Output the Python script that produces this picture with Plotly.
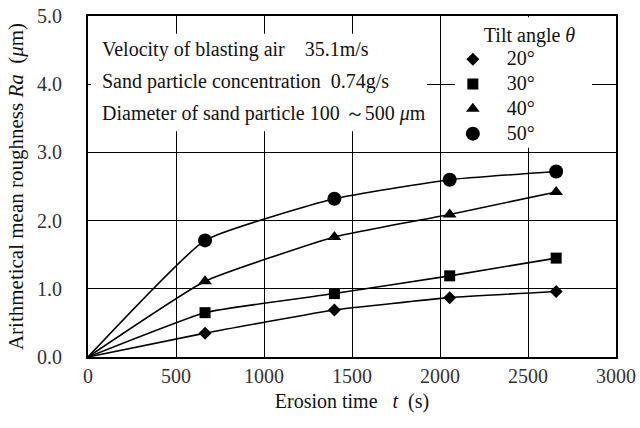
import plotly.graph_objects as go

# ---- data ----
time_s = [0, 665, 1400, 2055, 2660]
angles = ["20°", "30°", "40°", "50°"]
ra_20 = [0.0, 0.35, 0.69, 0.87, 0.96]
ra_30 = [0.0, 0.65, 0.93, 1.19, 1.45]
ra_40 = [0.0, 1.11, 1.76, 2.09, 2.42]
ra_50 = [0.0, 1.71, 2.32, 2.60, 2.72]
series = [ra_20, ra_30, ra_40, ra_50]
x_ticks = [0, 500, 1000, 1500, 2000, 2500, 3000]
y_ticks = [0.0, 1.0, 2.0, 3.0, 4.0, 5.0]
note_lines = [
    "Velocity of blasting air\u00a0\u00a0\u00a0 35.1m/s",
    "Sand particle concentration\u00a0 0.74g/s",
    "Diameter of sand particle 100 \uff5e500 <i>μ</i>m",
]

symbols = ["diamond", "square", "triangle-up", "circle"]
sizes = [10, 11, 12, 14]
FONT = "Liberation Serif"
NB = "\u00a0"

fig = go.Figure()
for i, (name, vals) in enumerate(zip(angles, series)):
    fig.add_trace(go.Scatter(
        x=time_s, y=vals, mode="lines",
        line=dict(color="black", width=1.6, shape="spline", smoothing=0.4),
        showlegend=False, hoverinfo="skip", legendgroup=name))
    fig.add_trace(go.Scatter(
        x=time_s[1:], y=vals[1:], mode="markers",
        name=f'<span style="font-size:20px">\u2002\u2009{name}</span>',
        marker=dict(symbol=symbols[i], size=sizes[i], color="black"),
        legendgroup=name))

# white panels hiding gridlines behind text box and legend
fig.add_shape(type="rect", xref="x", yref="y", x0=17, x1=1926, y0=3.31, y1=4.74,
              fillcolor="white", line=dict(width=0), layer="between")
fig.add_shape(type="rect", xref="x", yref="y", x0=2085, x1=2864, y0=3.07, y1=4.98,
              fillcolor="white", line=dict(width=0), layer="between")

for txt, yy in zip(note_lines, [4.51, 4.04, 3.57]):
    fig.add_annotation(x=68, y=yy, xref="x", yref="y", text=txt, showarrow=False,
                       xanchor="left", yanchor="middle",
                       font=dict(family=FONT, size=20, color="#111"))

axis_common = dict(
    showline=True, linecolor="black", linewidth=2, mirror=True,
    showgrid=True, gridcolor="black", gridwidth=1,
    ticks="", zeroline=False, automargin=False,
    tickfont=dict(family=FONT, size=20, color="#333"),
)
fig.update_xaxes(range=[0, 3000], tickvals=x_ticks,
                 ticktext=[str(v) for v in x_ticks],
                 title=dict(text=f"Erosion time{NB}{NB}{NB}<i>t</i>{NB}{NB}(s)",
                            font=dict(family=FONT, size=20, color="#111"), standoff=8),
                 **axis_common)
fig.update_yaxes(range=[0, 5], tickvals=y_ticks,
                 ticktext=[f"{v:.1f}" for v in y_ticks],
                 ticklabelstandoff=20,
                 title=dict(text=f"Arithmetical mean roughness <i>Ra</i>{NB}{NB}(<i>μ</i>m)",
                            font=dict(family=FONT, size=21, color="#111"), standoff=8),
                 **axis_common)

fig.update_layout(
    width=640, height=428,
    margin=dict(l=88, r=24, t=16, b=71),
    plot_bgcolor="white", paper_bgcolor="white",
    font=dict(family=FONT, color="#111"),
    showlegend=True,
    legend=dict(x=0.691, y=0.999, xanchor="left", yanchor="top",
                bgcolor="rgba(0,0,0,0)", borderwidth=0, itemwidth=30,
                title=dict(text=NB * 5 + "\u2009Tilt angle <i>θ</i>", font=dict(family=FONT, size=20)),
                font=dict(family=FONT, size=16, color="#111"), tracegroupgap=1),
)

fig.write_html("out.html", config={"displayModeBar": False},
               post_script="document.body.style.margin='0';")
